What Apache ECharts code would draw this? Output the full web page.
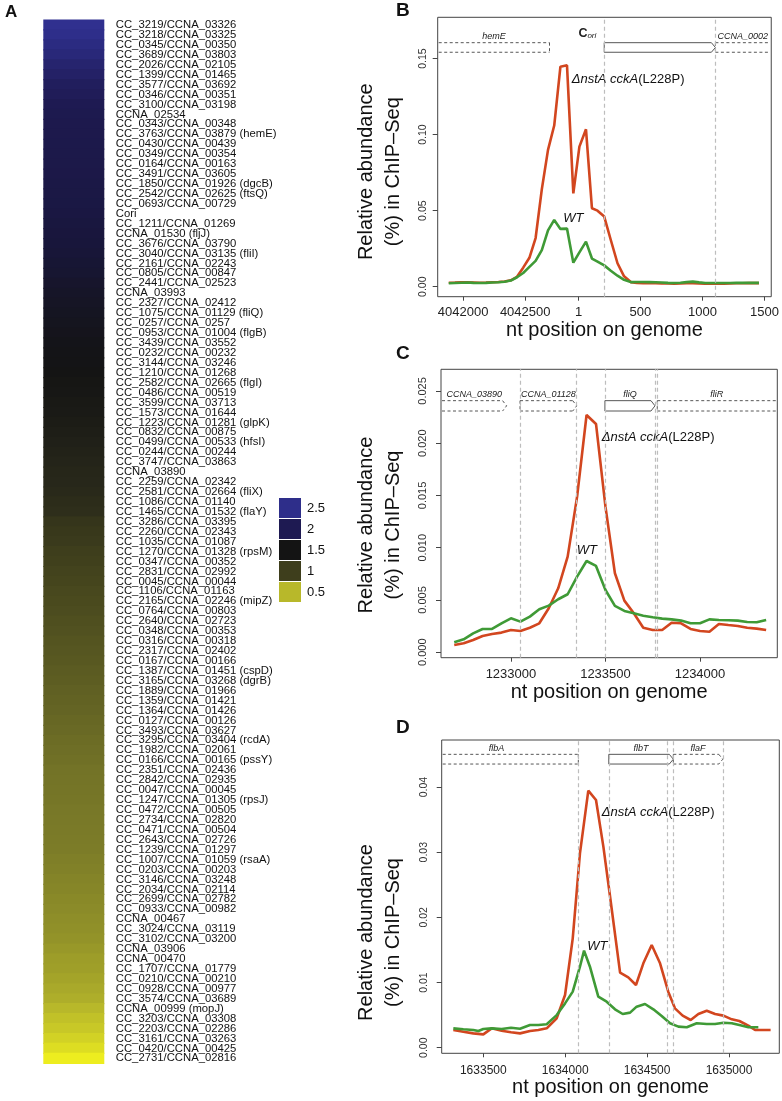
<!DOCTYPE html>
<html><head><meta charset="utf-8">
<script src="https://cdn.jsdelivr.net/npm/echarts@6/dist/echarts.min.js"></script>
<style>html,body{margin:0;padding:0;background:#fff}#main{width:782px;height:1101px}</style>
</head><body><div id="main"></div>
<script>
// ---------------- DATA ----------------
const geneLabels = [
'CC_3219/CCNA_03326','CC_3218/CCNA_03325','CC_0345/CCNA_00350','CC_3689/CCNA_03803','CC_2026/CCNA_02105',
'CC_1399/CCNA_01465','CC_3577/CCNA_03692','CC_0346/CCNA_00351','CC_3100/CCNA_03198','CCNA_02534',
'CC_0343/CCNA_00348','CC_3763/CCNA_03879 (hemE)','CC_0430/CCNA_00439','CC_0349/CCNA_00354','CC_0164/CCNA_00163',
'CC_3491/CCNA_03605','CC_1850/CCNA_01926 (dgcB)','CC_2542/CCNA_02625 (ftsQ)','CC_0693/CCNA_00729','Cori',
'CC_1211/CCNA_01269','CCNA_01530 (fljJ)','CC_3676/CCNA_03790','CC_3040/CCNA_03135 (fliI)','CC_2161/CCNA_02243',
'CC_0805/CCNA_00847','CC_2441/CCNA_02523','CCNA_03993','CC_2327/CCNA_02412','CC_1075/CCNA_01129 (fliQ)',
'CC_0257/CCNA_0257','CC_0953/CCNA_01004 (flgB)','CC_3439/CCNA_03552','CC_0232/CCNA_00232','CC_3144/CCNA_03246',
'CC_1210/CCNA_01268','CC_2582/CCNA_02665 (flgI)','CC_0486/CCNA_00519','CC_3599/CCNA_03713','CC_1573/CCNA_01644',
'CC_1223/CCNA_01281 (glpK)','CC_0832/CCNA_00875','CC_0499/CCNA_00533 (hfsI)','CC_0244/CCNA_00244','CC_3747/CCNA_03863',
'CCNA_03890','CC_2259/CCNA_02342','CC_2581/CCNA_02664 (fliX)','CC_1086/CCNA_01140','CC_1465/CCNA_01532 (flaY)',
'CC_3286/CCNA_03395','CC_2260/CCNA_02343','CC_1035/CCNA_01087','CC_1270/CCNA_01328 (rpsM)','CC_0347/CCNA_00352',
'CC_2831/CCNA_02992','CC_0045/CCNA_00044','CC_1106/CCNA_01163','CC_2165/CCNA_02246 (mipZ)','CC_0764/CCNA_00803',
'CC_2640/CCNA_02723','CC_0348/CCNA_00353','CC_0316/CCNA_00318','CC_2317/CCNA_02402','CC_0167/CCNA_00166',
'CC_1387/CCNA_01451 (cspD)','CC_3165/CCNA_03268 (dgrB)','CC_1889/CCNA_01966','CC_1359/CCNA_01421','CC_1364/CCNA_01426',
'CC_0127/CCNA_00126','CC_3493/CCNA_03627','CC_3295/CCNA_03404 (rcdA)','CC_1982/CCNA_02061','CC_0166/CCNA_00165 (pssY)',
'CC_2351/CCNA_02436','CC_2842/CCNA_02935','CC_0047/CCNA_00045','CC_1247/CCNA_01305 (rpsJ)','CC_0472/CCNA_00505',
'CC_2734/CCNA_02820','CC_0471/CCNA_00504','CC_2643/CCNA_02726','CC_1239/CCNA_01297','CC_1007/CCNA_01059 (rsaA)',
'CC_0203/CCNA_00203','CC_3146/CCNA_03248','CC_2034/CCNA_02114','CC_2699/CCNA_02782','CC_0933/CCNA_00982',
'CCNA_00467','CC_3024/CCNA_03119','CC_3102/CCNA_03200','CCNA_03906','CCNA_00470',
'CC_1707/CCNA_01779','CC_0210/CCNA_00210','CC_0928/CCNA_00977','CC_3574/CCNA_03689','CCNA_00999 (mopJ)',
'CC_3203/CCNA_03308','CC_2203/CCNA_02286','CC_3161/CCNA_03263','CC_0420/CCNA_00425','CC_2731/CCNA_02816'
];
const foldValues = [
2.55,2.5,2.42,2.35,2.25,2.18,2.1,2.05,2.0,
1.97,1.95,1.94,1.93,1.92,1.91,1.9,1.88,1.86,1.85,
1.83,1.8,1.78,1.76,1.74,1.71,1.69,1.66,
1.63,1.61,1.59,1.57,1.55,1.53,1.52,1.51,1.5,
1.48,1.46,1.44,1.42,1.4,1.38,1.35,1.33,1.3,
1.28,1.26,1.24,1.21,1.18,1.1,1.07,1.04,1.0,
0.99,0.98,0.97,0.96,0.95,0.94,0.93,0.92,0.91,0.9,0.89,0.88,0.87,0.86,0.85,0.84,0.83,0.82,
0.81,0.8,0.79,0.78,0.775,0.77,0.765,0.76,0.755,0.75,0.745,0.74,0.73,0.72,0.71,0.7,0.69,0.68,
0.67,0.66,0.65,0.63,0.61,0.6,0.58,0.56,0.54,0.5,0.46,0.43,0.39,0.34,0.27
];
const legendValues = [2.5, 2, 1.5, 1, 0.5];
const colorStopValues = [0.25,0.5,0.75,1,1.25,1.5,1.75,2,2.25,2.5,2.75];
const colorStopColors = ['#f2f21e','#b8b82a','#7a7a28','#3e3e1c','#28281a','#141414','#18163a','#1e1a52','#26246e','#2e2e8a','#3a3aa2'];

const GENOME_LEN = 4042929;
// Panel B (positions on circular genome, around nt 1)
const bPos = [4041884,4041934,4041984,4042034,4042084,4042134,4042184,4042234,4042284,4042334,4042384,4042434,4042484,4042534,4042584,4042634,4042684,4042734,4042784,4042837,4042888,
  8,61,109,154,208,261,315,368,422,472,522,572,622,672,722,772,822,872,922,972,1022,1072,1122,1172,1222,1272,1322,1372,1422,1455];
const bMutant = [0.0026,0.0027,0.0029,0.0028,0.0027,0.0026,0.0027,0.0029,0.0031,0.0034,0.0042,0.0065,0.0125,0.0190,0.0320,0.0640,0.0900,0.1060,0.1447,0.1456,0.0614,
  0.0921,0.1035,0.0516,0.0500,0.0461,0.0307,0.0154,0.0068,0.0030,0.0024,0.0023,0.0022,0.0022,0.0021,0.0021,0.0020,0.0021,0.0022,0.0023,0.0021,0.0019,0.0019,0.0019,0.0020,0.0021,0.0022,0.0022,0.0023,0.0023,0.0023];
const bWT = [0.0022,0.0024,0.0026,0.0027,0.0025,0.0024,0.0025,0.0027,0.0029,0.0032,0.0040,0.0062,0.0090,0.0130,0.0170,0.0240,0.0370,0.0439,0.0380,0.0382,0.0158,
  0.0226,0.0296,0.0185,0.0165,0.0140,0.0105,0.0072,0.0045,0.0030,0.0031,0.0031,0.0030,0.0029,0.0027,0.0025,0.0024,0.0026,0.0030,0.0033,0.0028,0.0024,0.0024,0.0024,0.0024,0.0024,0.0025,0.0025,0.0025,0.0025,0.0025];
const bXTicks = [4042000, 4042500, 1, 500, 1000, 1500];
const bYTicks = [0, 0.05, 0.10, 0.15];
const bGenes = [
  {name:'hemE', start:4041500, end:4042696, strand:-1, solid:false},
  {name:'Cori', start:208, end:1104, strand:1, solid:true},
  {name:'CCNA_0002', start:1104, end:1900, strand:1, solid:false}
];
const bBounds = [208, 1104];

// Panel C
const cPos = [1232700,1232750,1232800,1232850,1232900,1232950,1233000,1233050,1233100,1233150,1233200,1233250,1233300,1233350,1233400,1233450,1233500,
  1233550,1233600,1233650,1233700,1233750,1233800,1233850,1233900,1233950,1234000,1234050,1234100,1234150,1234200,1234250,1234300,1234350];
const cMutant = [0.0007,0.00086,0.00118,0.00156,0.00175,0.00188,0.00213,0.00204,0.00235,0.00277,0.00421,0.00612,0.00915,0.01489,0.02270,0.02184,0.01393,
  0.00756,0.00494,0.00373,0.00235,0.00213,0.00213,0.00283,0.00277,0.00223,0.00204,0.00197,0.00271,0.00261,0.00252,0.00235,0.00226,0.00213];
const cWT = [0.00095,0.00124,0.00181,0.00223,0.00223,0.00277,0.00325,0.00293,0.00341,0.00411,0.00446,0.00507,0.00555,0.00724,0.00873,0.00826,0.00596,
  0.00443,0.00395,0.00373,0.00350,0.00335,0.00322,0.00315,0.00303,0.00277,0.00277,0.00315,0.00309,0.00306,0.00303,0.00290,0.00287,0.00309];
const cXTicks = [1233000, 1233500, 1234000];
const cYTicks = [0, 0.005, 0.010, 0.015, 0.020, 0.025];
const cGenes = [
  {name:'CCNA_03890', start:1232300, end:1232977, strand:1, solid:false},
  {name:'CCNA_01128', start:1233048, end:1233348, strand:1, solid:false},
  {name:'fliQ', start:1233497, end:1233762, strand:1, solid:true},
  {name:'fliR', start:1233774, end:1234700, strand:1, solid:false}
];
const cBounds = [1233048, 1233348, 1233497, 1233762, 1233774];

// Panel D
const dPosMutant = [1633317,1633378,1633439,1633500,1633551,1633612,1633669,1633724,1633785,1633836,1633887,1633948,1633999,1634046,1634090,1634141,1634188,1634233,1634274,1634335,
  1634385,1634432,1634477,1634528,1634579,1634629,1634670,1634717,1634766,1634813,1634864,1634915,1634966,1635017,1635063,1635118,1635159,1635209,1635254];
const dMutant = [0.00272,0.00246,0.00220,0.00205,0.00297,0.00261,0.00236,0.00220,0.00256,0.00272,0.00297,0.00451,0.00809,0.01678,0.02982,0.03944,0.03801,0.03085,0.02317,0.01151,
  0.01080,0.00962,0.01295,0.01576,0.01295,0.00860,0.00604,0.00492,0.00425,0.00517,0.00568,0.00517,0.00492,0.00435,0.00410,0.00338,0.00272,0.00272,0.00272];
const dPosWT = [1633317,1633378,1633439,1633470,1633500,1633551,1633612,1633669,1633724,1633785,1633836,1633887,1633948,1633999,1634046,1634090,1634115,1634151,1634202,1634253,
  1634304,1634351,1634396,1634436,1634487,1634538,1634589,1634640,1634691,1634742,1634803,1634864,1634915,1634966,1635017,1635063,1635118,1635179];
const dWT = [0.00297,0.00282,0.00272,0.00256,0.00287,0.00297,0.00287,0.00307,0.00292,0.00348,0.00348,0.00360,0.00500,0.00680,0.00860,0.01243,0.01489,0.01243,0.00783,0.00706,
  0.00589,0.00517,0.00538,0.00630,0.00671,0.00589,0.00486,0.00374,0.00323,0.00313,0.00374,0.00364,0.00364,0.00384,0.00374,0.00348,0.00313,0.00313];
const dXTicks = [1633500, 1634000, 1634500, 1635000];
const dYTicks = [0, 0.01, 0.02, 0.03, 0.04];
const dGenes = [
  {name:'flbA', start:1633000, end:1634080, strand:-1, solid:false},
  {name:'flbT', start:1634266, end:1634660, strand:1, solid:true},
  {name:'flaF', start:1634660, end:1634962, strand:1, solid:false}
];
const dBounds = [1634080, 1634266, 1634626, 1634660, 1634962];

// ---------------- STYLE / LAYOUT ----------------
const FONT = "'Liberation Sans', Arial, Helvetica, sans-serif";
const RED = '#d2461f', GREEN = '#3f9a36';
const toLin = p => (p > GENOME_LEN / 2 ? p - GENOME_LEN : p);
const fromLin = v => (v <= 0 ? v + GENOME_LEN : v);

const panels = [
  {key:'B', grid:{left:437.7, top:17.3, width:335, height:279.4}, x:[-1134,1554], y:[-0.0066,0.1772],
   xTicks:bXTicks.map(toLin), xFmt:v=>String(fromLin(v)), yTicks:bYTicks, yDec:2,
   series:[[bPos.map(toLin), bMutant],[bPos.map(toLin), bWT]],
   genes:bGenes.map(g=>Object.assign({}, g, {start:toLin(g.start), end:toLin(g.end)})), bounds:bBounds,
   track:[0.1605,0.1542], labelX:{Cori:72}, xFont:13, yFont:10.5, yMargin:9.5, xMargin:9.5, nameGap:22},
  {key:'C', grid:{left:441, top:369.3, width:336.3, height:288.4}, x:[1232630,1234409], y:[-0.00052,0.02707],
   xTicks:cXTicks, xFmt:v=>String(v), yTicks:cYTicks, yDec:3,
   series:[[cPos, cMutant],[cPos, cWT]], genes:cGenes, bounds:cBounds,
   track:[0.02407,0.02308], labelX:{}, xFont:13, yFont:11, yMargin:12.5, xMargin:10.5, nameGap:21},
  {key:'D', grid:{left:441.7, top:740, width:337.6, height:313.3}, x:[1633246,1635307], y:[-0.00086,0.04722],
   xTicks:dXTicks, xFmt:v=>String(v), yTicks:dYTicks, yDec:2,
   series:[[dPosMutant, dMutant],[dPosWT, dWT]], genes:dGenes, bounds:dBounds,
   track:[0.04502,0.04353], labelX:{flbA:1633580}, xFont:12, yFont:10.5, yMargin:12.5, xMargin:11, nameGap:24}
];

const grids = [{left:43.3, top:20, width:61, height:1043.3, show:false}];
const xAxes = [{gridIndex:0, type:'category', data:[''], show:false}];
const yAxes = [{gridIndex:0, type:'category', data:geneLabels, inverse:true, position:'right',
  axisLine:{show:false}, axisTick:{show:false},
  axisLabel:{interval:0, margin:11.5, fontSize:11.3, fontFamily:FONT, color:'#111'}}];
const series = [{type:'custom', xAxisIndex:0, yAxisIndex:0, silent:true,
  data:foldValues.map((v,i)=>[0,i,v]), encode:{x:0, y:1},
  renderItem:function(params, api){
    const c = api.coord([api.value(0), api.value(1)]);
    const s = api.size([1, 1]);
    return {type:'rect', shape:{x:c[0] - s[0] / 2, y:c[1] - s[1] / 2 - 0.6, width:s[0], height:s[1] + 1.2},
      style:{fill:api.visual('color')}};
  }}];

function geneSeries(idx, p) {
  return {
    type:'custom', xAxisIndex:idx, yAxisIndex:idx, silent:true, z:1,
    data:p.genes.map(g=>[g.start, g.end]),
    renderItem:function(params, api){
      const g = p.genes[params.dataIndex];
      const cs = params.coordSys;
      const top = api.coord([p.x[0], p.track[0]])[1];
      const bot = api.coord([p.x[0], p.track[1]])[1];
      const mid = (top + bot) / 2;
      const x1 = api.coord([g.start, 0])[0], x2 = api.coord([g.end, 0])[0];
      const Lb = cs.x + 1, Rb = cs.x + cs.width - 1, tip = 4;
      const leftIn = x1 >= Lb, rightIn = x2 <= Rb;
      let a = Math.max(x1, Lb), b = Math.min(x2, Rb);
      let ba = a, bb = b;
      if (g.strand > 0 && rightIn) bb = x2 - tip;
      if (g.strand < 0 && leftIn) ba = x1 + tip;
      const segs = [[[ba,top],[bb,top]], [[ba,bot],[bb,bot]]];
      if (rightIn) segs.push(g.strand > 0 ? [[bb,top],[x2,mid],[bb,bot]] : [[x2,top],[x2,bot]]);
      if (leftIn) segs.push(g.strand < 0 ? [[ba,top],[x1,mid],[ba,bot]] : [[x1,top],[x1,bot]]);
      const children = segs.map(pts=>({type:'polyline', shape:{points:pts},
        style:{stroke:'#444', lineWidth:0.9, fill:null, lineDash:g.solid ? null : [3,2.5]}}));
      let lx = (a + b) / 2;
      if (p.labelX[g.name] !== undefined) lx = api.coord([p.labelX[g.name], 0])[0];
      if (g.name === 'Cori') {
        children.push({type:'text', x:lx, y:top - 3, style:{
          text:'{c|C}{o|ori}', align:'center', verticalAlign:'bottom',
          rich:{c:{fontFamily:FONT, fontWeight:'bold', fontSize:12.5, fill:'#222', verticalAlign:'bottom'},
                o:{fontFamily:FONT, fontStyle:'italic', fontSize:8, fill:'#222', verticalAlign:'bottom'}}}});
      } else {
        children.push({type:'text', x:lx, y:top - 1.5, style:{text:g.name, fontFamily:FONT, fontStyle:'italic',
          fontSize:9, fill:'#222', align:'center', verticalAlign:'bottom'}});
      }
      return {type:'group', children};
    },
    markLine:{silent:true, symbol:'none', label:{show:false},
      lineStyle:{color:'#bdbdbd', type:[4,3], width:1.2},
      data:p.bounds.map(v=>({xAxis: p.key === 'B' ? toLin(v) : v}))}
  };
}

panels.forEach((p, k) => {
  const idx = k + 1;
  grids.push(Object.assign({show:true, borderColor:'#444', borderWidth:1, backgroundColor:'transparent'}, p.grid));
  xAxes.push({gridIndex:idx, type:'value', min:p.x[0], max:p.x[1],
    name:'nt position on genome', nameLocation:'middle', nameGap:p.nameGap,
    nameTextStyle:{fontFamily:FONT, fontSize:20, color:'#111'},
    axisLine:{show:false, onZero:false}, splitLine:{show:false},
    axisTick:{show:true, length:4, customValues:p.xTicks, lineStyle:{color:'#444'}},
    axisLabel:{customValues:p.xTicks, formatter:p.xFmt, margin:p.xMargin, fontFamily:FONT, fontSize:p.xFont, color:'#222'}});
  yAxes.push({gridIndex:idx, type:'value', min:p.y[0], max:p.y[1],
    axisLine:{show:false, onZero:false}, splitLine:{show:false},
    axisTick:{show:true, length:5, customValues:p.yTicks, lineStyle:{color:'#444'}},
    axisLabel:{customValues:p.yTicks, rotate:90, formatter:v=>v.toFixed(p.yDec), margin:p.yMargin,
      fontFamily:FONT, fontSize:p.yFont, color:'#333'}});
  series.push(geneSeries(idx, p));
  const cols = [RED, GREEN];
  p.series.forEach((s, j) => {
    series.push({type:'line', xAxisIndex:idx, yAxisIndex:idx, data:s[0].map((x,i)=>[x, s[1][i]]),
      symbol:'none', showSymbol:false, silent:true, z:3 + j,
      lineStyle:{color:cols[j], width:2.6}, itemStyle:{color:cols[j]}});
  });
});

// ---------------- ANNOTATIONS ----------------
const graphic = [];
function txt(x, y, text, style, extra) {
  graphic.push(Object.assign({type:'text', x, y, silent:true,
    style:Object.assign({text, fontFamily:FONT, fill:'#111', align:'left', verticalAlign:'middle'}, style)}, extra || {}));
}
txt(5, 12, 'A', {fontWeight:'bold', fontSize:17});
txt(396, 11, 'B', {fontWeight:'bold', fontSize:19});
txt(396, 354, 'C', {fontWeight:'bold', fontSize:19});
txt(396, 728, 'D', {fontWeight:'bold', fontSize:19});

// legend of heatmap
legendValues.forEach((v, i) => {
  const col = colorStopColors[colorStopValues.indexOf(v)];
  graphic.push({type:'rect', silent:true, shape:{x:279, y:498 + 21 * i, width:22, height:20}, style:{fill:col}});
  txt(307, 508 + 21 * i, String(v), {fontSize:13});
});

// y-axis titles and curve labels
const yTitleCenters = [171.7, 525, 932.5];
yTitleCenters.forEach(cy => {
  txt(366.7, cy, 'Relative abundance', {fontSize:20, align:'center'}, {rotation:Math.PI / 2});
  txt(393.3, cy, '(%) in ChIP\u2013Seq', {fontSize:20, align:'center'}, {rotation:Math.PI / 2});
});
const mutLabelPos = [[571.7, 79.3], [601.7, 437.3], [601.7, 812.3]];
const wtLabelPos = [[563.3, 218.3], [576.7, 550], [587.3, 946.7]];
mutLabelPos.forEach(([x, y]) => {
  graphic.push({type:'text', x, y, silent:true, style:{text:'{i|\u0394nstA cckA}{n|(L228P)}', align:'left', verticalAlign:'middle',
    rich:{i:{fontFamily:FONT, fontStyle:'italic', fontSize:13, fill:'#111'}, n:{fontFamily:FONT, fontSize:13, fill:'#111'}}}});
});
wtLabelPos.forEach(([x, y]) => txt(x, y, 'WT', {fontStyle:'italic', fontSize:13}));

const chart = echarts.init(document.getElementById('main'), null, {renderer:'canvas', width:782, height:1101});
chart.setOption({
  animation:false,
  backgroundColor:'#ffffff',
  textStyle:{fontFamily:FONT},
  grid:grids, xAxis:xAxes, yAxis:yAxes,
  visualMap:{type:'continuous', show:false, seriesIndex:0, dimension:2,
    min:colorStopValues[0], max:colorStopValues[colorStopValues.length - 1], inRange:{color:colorStopColors}},
  series, graphic
});
</script></body></html>
